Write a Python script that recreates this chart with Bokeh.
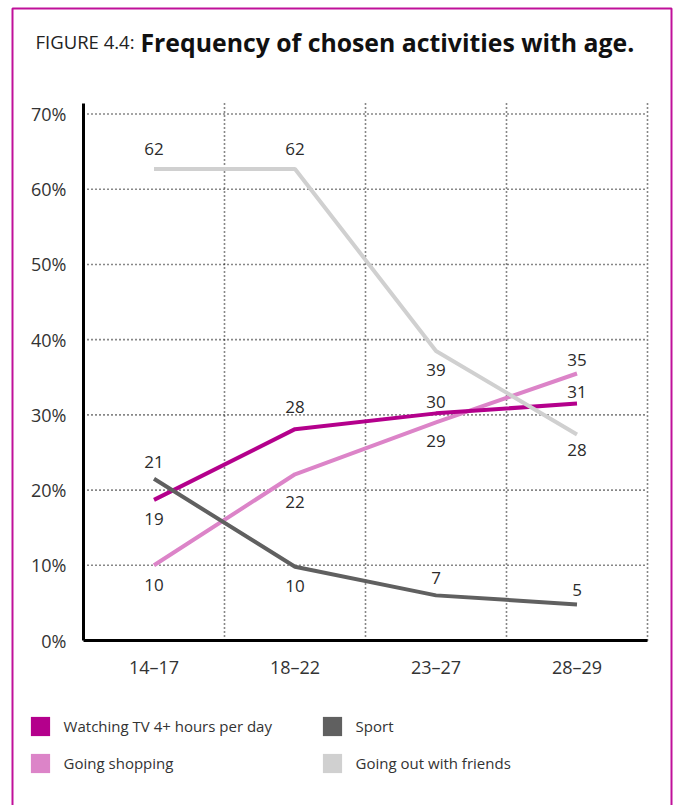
from bokeh.plotting import figure
from bokeh.models import (Range1d, FixedTicker, Label, BoxAnnotation, Legend,
                          LegendItem, ColumnDataSource, LinearAxis)
from bokeh.core.properties import value
from bokeh.embed import file_html
from bokeh.resources import INLINE

# ---- data ----
age_groups = ["14–17", "18–22", "23–27", "28–29"]

tv_values = [18.7, 28.1, 30.2, 31.5]
shopping_values = [10.0, 22.1, 29.0, 35.5]
sport_values = [21.5, 9.8, 6.0, 4.8]
friends_values = [62.7, 62.7, 38.5, 27.4]

tv_labels = ["19", "28", "30", "31"]
shopping_labels = ["10", "22", "29", "35"]
sport_labels = ["21", "10", "7", "5"]
friends_labels = ["62", "62", "39", "28"]

y_ticks = [0, 10, 20, 30, 40, 50, 60, 70]
y_tick_labels = ["0%", "10%", "20%", "30%", "40%", "50%", "60%", "70%"]

series_names = ["Watching TV 4+ hours per day", "Sport", "Going shopping", "Going out with friends"]

# ---- style / layout ----
W, H = 677, 805
FX0, FX1 = 83, 647      # plot area left/right (px)
FY_TOP, FY_BOT = 103, 640  # plot area top/bottom (px from top)
Y_MAX = 71.4

C_TV = "#b4008c"
C_SHOP = "#dc84c8"
C_SPORT = "#606060"
C_FRIENDS = "#d0d0d0"
C_BORDER = "#c0109a"
FONT = "Open Sans"
TXT = "#2b2b2b"

tv_off = [19, -22, -11, -12]
shop_off = [20, 28, 19, -14]
sport_off = [-17, 19, -17, -14]
friends_off = [-20, -20, 19, 16]

n = len(age_groups)
xs = [i + 0.5 for i in range(n)]

sx = (FX1 - FX0) / n
sy = (FY_BOT - FY_TOP) / Y_MAX
x_range = Range1d(-FX0 / sx, n + (W - FX1) / sx)
y_range = Range1d(-(H - FY_BOT) / sy, Y_MAX + FY_TOP / sy)

p = figure(width=W, height=H, x_range=x_range, y_range=y_range,
           output_backend="svg", toolbar_location=None,
           min_border_left=0, min_border_right=0, min_border_top=0, min_border_bottom=0,
           x_axis_type=None, y_axis_type=None)
p.outline_line_color = None
p.background_fill_color = "white"
p.border_fill_color = "white"
p.xgrid.visible = False
p.ygrid.visible = False

# dotted grid lines (drawn from tick arrays)
hy = y_ticks[1:]
p.segment(x0=[0] * len(hy), x1=[n] * len(hy), y0=hy, y1=hy,
          line_color="#111111", line_width=1.6, line_dash="1 3")
vx = [i + 1 for i in range(n)]
p.segment(x0=vx, x1=vx, y0=[0] * n, y1=[Y_MAX] * n,
          line_color="#111111", line_width=1.6, line_dash="1 3")

yaxis = LinearAxis(ticker=FixedTicker(ticks=y_ticks), fixed_location=0, bounds=(0, Y_MAX),
                   major_label_overrides={t: l for t, l in zip(y_ticks, y_tick_labels)})
xaxis = LinearAxis(ticker=FixedTicker(ticks=xs), fixed_location=0, bounds=(0, n),
                   major_label_overrides={x: l for x, l in zip(xs, age_groups)})
for ax in (yaxis, xaxis):
    ax.axis_line_width = 3
    ax.axis_line_color = "black"
    ax.major_tick_line_color = None
    ax.minor_tick_line_color = None
    ax.major_tick_out = 0
    ax.major_tick_in = 0
    ax.major_label_text_font = FONT
    ax.major_label_text_font_size = "18px"
    ax.major_label_text_color = "#333333"
yaxis.major_label_standoff = 17
xaxis.major_label_standoff = 14
p.add_layout(yaxis, "left")
p.add_layout(xaxis, "below")

series = [
    (shopping_values, shopping_labels, shop_off, C_SHOP),
    (tv_values, tv_labels, tv_off, C_TV),
    (friends_values, friends_labels, friends_off, C_FRIENDS),
    (sport_values, sport_labels, sport_off, C_SPORT),
]
for vals, labs, offs, col in series:
    src = ColumnDataSource(dict(x=xs, y=vals, t=labs, off=offs))
    p.line("x", "y", source=src, line_color=col, line_width=4)
for vals, labs, offs, col in series:
    src = ColumnDataSource(dict(x=xs, y=vals, t=labs, off=offs))
    p.text("x", "y", text="t", y_offset="off", source=src, text_align="center",
           text_baseline="middle", text_font=value(FONT), text_font_size="17px", text_color=TXT)

# legend swatches (legend-only renderers, nothing drawn in the plot)
nan = float("nan")
sw = {}
for name, col in zip(series_names, [C_TV, C_SPORT, C_SHOP, C_FRIENDS]):
    sw[name] = p.quad(left=[nan], right=[nan], top=[nan], bottom=[nan],
                      fill_color=col, line_color=None)
legend = Legend(items=[LegendItem(label=nm, renderers=[sw[nm]]) for nm in series_names],
                location=(27.6, H - 775), orientation="horizontal", ncols=2,
                glyph_width=24, glyph_height=24, label_standoff=12, label_width=243,
                label_height=24, spacing=13, padding=0, margin=0,
                border_line_color=None, background_fill_alpha=0,
                label_text_font=FONT, label_text_font_size="15px", label_text_color="#333333")
p.add_layout(legend)

# title
p.add_layout(Label(x=35, y=H - 41, x_units="screen", y_units="screen", text="FIGURE 4.4:",
                   text_font=FONT, text_font_size="18.5px", text_color="#222222",
                   text_baseline="alphabetic"))
p.add_layout(Label(x=140, y=H - 41, x_units="screen", y_units="screen",
                   text="Frequency of chosen activities with age.",
                   text_font=FONT, text_font_size="24.8px", text_font_style="bold",
                   text_color="#111111", text_baseline="alphabetic"))

# page frame
p.add_layout(BoxAnnotation(left=12, right=671, top=H - 8, bottom=-20,
                           left_units="screen", right_units="screen",
                           top_units="screen", bottom_units="screen",
                           fill_alpha=0, line_color=C_BORDER, line_alpha=1.0, line_width=2))

open("out.html", "w").write(file_html(p, INLINE))
